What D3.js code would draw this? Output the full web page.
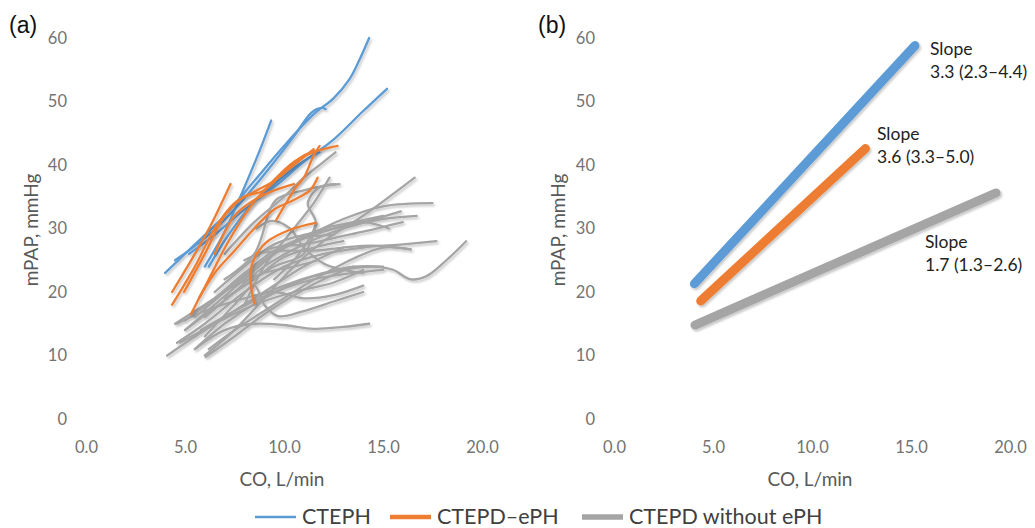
<!DOCTYPE html>
<html>
<head lang="en">
    <meta charset="UTF-8">
    <title>mPAP vs CO</title>
    <style>
        body { margin: 0; background: #fff; }
        .tick text { font-family: Lato, sans-serif; font-size: 16.5px; fill: #737373; }
    </style>
</head>
<body>
<script src="https://cdnjs.cloudflare.com/ajax/libs/d3/7.8.5/d3.min.js"></script>
<div id="chart"></div>
<script>
// axis ticks
var xTicks = [0, 5, 10, 15, 20];
var yTicks = [0, 10, 20, 30, 40, 50, 60];

// (a) individual patient curves, [CO, mPAP]
var ctephCurves = [
    [[4.0,23],[5.5,27.5],[7,32],[8.5,37.5],[10,43],[11.5,48],[12.5,50.5],[13.3,53.5],[13.8,56.5],[14.3,60]],
    [[4.5,25],[6,28.5],[7.5,33],[9,38.5],[10.5,44.5],[11.4,48.3],[11.9,49],[12.1,48.8]],
    [[6,24],[7,29.5],[8,36.5],[8.8,42.5],[9.35,47]],
    [[5.2,26],[6.5,29],[8,33],[9.5,36.5],[11,40.5],[12.5,44],[14,48.5],[15.2,52]],
    [[6.2,24],[7.2,29],[8.3,33.5],[9.5,37],[10.7,40],[11.8,42]]
];
var ctepdEphCurves = [
    [[4.35,18],[5.5,24],[6.5,30],[7.5,34],[8.5,35.8],[9.5,37.5],[10.5,40],[11.5,42.5]],
    [[4.35,20],[5.5,26],[6.3,30.5],[7.3,37]],
    [[4.95,20],[6,26],[7,32],[8,35],[9,36],[10,39],[11,41.5],[12,42.5],[12.7,43]],
    [[5.7,19],[6.5,23],[7.5,26.5],[8.5,30],[9.5,33],[10.5,34.5],[11.3,36],[11.7,38]],
    [[8.5,18.2],[8.3,22],[8.4,24.5],[9.1,27.8],[10.3,29.8],[11.6,30.9]],
    [[9.6,31.3],[10.1,34],[10.6,36.5],[11,38],[11.5,41.5],[11.8,43]],
    [[5.3,16.5],[6.2,22],[7.2,28],[8.2,33],[9.3,37],[10.5,40.5],[11.5,42]],
    [[6.5,26],[7.5,32],[8.5,34.5],[9.5,36],[10.5,37]]
];
var ctepdNoEphCurves = [
    [[5.5,11],[7,14],[8.5,15],[10,14.8],[11.5,14.2],[13,14.5],[14.3,15]],
    [[4.6,15],[6,17],[8,19],[9.5,20],[11,19],[12.5,19.5],[14,21]],
    [[6,13],[7.5,18],[8.5,21],[9,18],[9.7,16.2],[11,17],[12.5,18.5],[14,20]],
    [[5.5,11],[7,15],[9,19],[11,22],[13,23.5],[14.5,24],[15.5,23.5],[16.4,22],[17.2,22.5],[18.2,25],[19.2,28]],
    [[4.6,12],[6,15],[8,20],[10,24],[12,26],[14,27],[16,27.5],[17.7,28]],
    [[5,14],[6.5,18],[8,22],[10,27],[12,29.5],[14,31],[15.9,32.7]],
    [[5.5,16],[7,20],[9,25],[11,28.5],[13,31.5],[15,33.5],[17.5,34]],
    [[6,10],[7.5,14],[9,19],[10.5,24],[12,28],[14,32],[16.6,38]],
    [[6,16],[7.5,20],[9,24],[11,27.5],[13,30],[15,31.5],[16.7,32]],
    [[7,22],[8.5,26],[9.6,34.5],[11,36],[12,36.7],[12.8,37]],
    [[8,18],[9,24],[10.5,30],[11.5,34],[12.3,38]],
    [[7,26],[8.5,31],[10,35],[11,38],[12,40.5],[12.6,42]],
    [[5.5,13],[7,16],[8.5,19],[10,21],[12,23],[13.5,24],[15,24]],
    [[4.1,10],[5.5,13],[7,16],[9,20],[11,24],[13,27]],
    [[6.2,11],[7.5,14],[9,17],[11,21],[13,24.5],[15,27],[16.4,26.7]],
    [[5.8,14],[7.5,17],[9.5,20],[11.5,22],[13.5,23],[15,23.5]],
    [[8.6,30],[9.4,31.2],[10.3,30],[11,27],[12,24.5],[13,23.5],[14,23]],
    [[6.5,20],[8,24],[9.5,27.5],[11,29],[12.5,30],[14,31],[15.3,30]],
    [[8,25],[9.5,27],[11,27.5],[12.5,28.5],[14,29.5],[16,31]],
    [[7,19],[8.5,22],[10,25.5],[11.5,27],[13,28]],
    [[4.5,15],[6,18],[7.5,21],[9,23],[10.5,24],[11.7,25]],
    [[4.75,12],[6.5,15],[8.5,18],[10.5,20],[12.5,21.5],[14,23.5]],
    [[6.05,9.8],[7.5,13],[9,16.5],[10.5,19.5],[12,22],[13.5,24]],
    [[5,14],[6.5,17.5],[8,21],[9.5,24],[11,26],[11.65,30.8]],
    [[9.5,22],[10.5,25],[11.2,28],[11.6,31],[11.2,34],[11.8,36.5],[12.6,37]],
    [[8.5,26],[10,26.5],[11.5,26.5],[13,27],[14.5,27.3],[16.4,26.7]],
    [[7.5,21],[9,25],[10.5,28],[12,30],[13.5,31],[15,32]],
    [[5,15.5],[6.5,19],[8,23],[9.5,26.5],[11,28.5],[12.5,29]]
];

// (b) group regression lines, [CO, mPAP]
var ctephFit = [[4.06,21.3],[15.2,58.8]];
var ctepdEphFit = [[4.38,18.6],[12.7,42.6]];
var ctepdNoEphFit = [[4.09,14.8],[19.3,35.6]];
var slopeValues = ["3.3 (2.3–4.4)", "3.6 (3.3–5.0)", "1.7 (1.3–2.6)"];

var seriesNames = ["CTEPH", "CTEPD–ePH", "CTEPD without ePH"];
var seriesColors = ["#5B9BD5", "#ED7D31", "#A5A5A5"];

var width = 1035, height = 528;
var svg = d3.select("#chart").append("svg")
    .attr("width", width)
    .attr("height", height);

var defs = svg.append("defs");
defs.append("filter").attr("id", "shadow")
    .attr("x", "-20%").attr("y", "-20%").attr("width", "140%").attr("height", "140%")
    .append("feDropShadow")
    .attr("dx", 1.5).attr("dy", 2).attr("stdDeviation", 1.3)
    .attr("flood-color", "#000").attr("flood-opacity", 0.22);

var y = d3.scaleLinear().domain([0, 60]).range([419, 38]);

function drawPanel(left, letter, letterX, titleX) {
    var x = d3.scaleLinear().domain([0, 20]).range([left, left + 396]);
    var g = svg.append("g");

    g.append("g")
        .attr("transform", "translate(" + left + ",0)")
        .call(d3.axisLeft(y).tickValues(yTicks).tickSize(0).tickPadding(19))
        .call(function(a) { a.select(".domain").remove(); });

    g.append("g")
        .attr("transform", "translate(0,419)")
        .call(d3.axisBottom(x).tickValues(xTicks).tickSize(0).tickPadding(22).tickFormat(d3.format(".1f")))
        .call(function(a) { a.select(".domain").remove(); });

    g.append("text")
        .attr("transform", "translate(" + titleX + ",230) rotate(-90)")
        .attr("text-anchor", "middle")
        .attr("dominant-baseline", "central")
        .style("font-family", "Lato, sans-serif")
        .style("font-size", "19px")
        .style("fill", "#595959")
        .text("mPAP, mmHg");

    g.append("text")
        .attr("x", x(10) - 2).attr("y", 486)
        .attr("text-anchor", "middle")
        .style("font-family", "Lato, sans-serif")
        .style("font-size", "19px")
        .style("fill", "#595959")
        .text("CO, L/min");

    g.append("text")
        .attr("x", letterX).attr("y", 33)
        .style("font-family", "'Liberation Sans', Arial, sans-serif")
        .style("font-size", "23px")
        .style("fill", "#111")
        .text(letter);

    return { g: g, x: x };
}

var pa = drawPanel(86, "(a)", 9, 30);
var pb = drawPanel(614, "(b)", 538, 557);

// panel (a) curves
var lineA = d3.line()
    .x(function(d) { return pa.x(d[0]); })
    .y(function(d) { return y(d[1]); })
    .curve(d3.curveCatmullRom.alpha(0.5));

var groupsA = [
    { data: ctepdNoEphCurves, color: seriesColors[2] },
    { data: ctephCurves, color: seriesColors[0] },
    { data: ctepdEphCurves, color: seriesColors[1] }
];
groupsA.forEach(function(grp) {
    pa.g.append("g")
        .attr("filter", "url(#shadow)")
        .selectAll("path")
        .data(grp.data)
        .enter().append("path")
        .attr("d", lineA)
        .attr("fill", "none")
        .attr("stroke", grp.color)
        .attr("stroke-width", 2.3)
        .attr("stroke-linecap", "round");
});

// panel (b) regression lines
var lineB = d3.line()
    .x(function(d) { return pb.x(d[0]); })
    .y(function(d) { return y(d[1]); });

var fits = [ctephFit, ctepdEphFit, ctepdNoEphFit];
pb.g.append("g")
    .attr("filter", "url(#shadow)")
    .selectAll("path")
    .data(fits)
    .enter().append("path")
    .attr("d", lineB)
    .attr("fill", "none")
    .attr("stroke", function(d, i) { return seriesColors[i]; })
    .attr("stroke-width", 9)
    .attr("stroke-linecap", "round");

// slope labels
var labelPos = [[930, 55], [877, 140], [925, 248]];
slopeValues.forEach(function(v, i) {
    var t = pb.g.append("text")
        .attr("x", labelPos[i][0]).attr("y", labelPos[i][1])
        .style("font-family", "Lato, sans-serif")
        .style("font-size", "17.5px")
        .style("fill", "#222");
    t.append("tspan").attr("x", labelPos[i][0]).text("Slope");
    t.append("tspan").attr("x", labelPos[i][0]).attr("dy", 23).text(v);
});

// legend
var legendX = [255, 390, 582];
var legendW = [2.6, 4.5, 5.5];
var legend = svg.append("g");
seriesNames.forEach(function(name, i) {
    legend.append("line")
        .attr("x1", legendX[i]).attr("x2", legendX[i] + 41)
        .attr("y1", 517).attr("y2", 517)
        .attr("stroke", seriesColors[i])
        .attr("stroke-width", legendW[i]);
    legend.append("text")
        .attr("x", legendX[i] + 47).attr("y", 524)
        .style("font-family", "Lato, sans-serif")
        .style("font-size", "21.5px")
        .style("fill", "#404040")
        .text(name);
});
</script>
</body>
</html>
